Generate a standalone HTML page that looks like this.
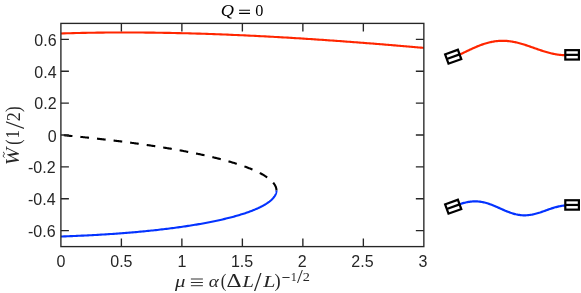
<!DOCTYPE html><html><head><meta charset="utf-8"><style>
html,body{margin:0;padding:0;background:#fff;}
#c{position:relative;width:581px;height:293px;overflow:hidden;background:#fff;will-change:transform;font-family:"Liberation Sans",sans-serif;}
.t{position:absolute;font-size:16px;line-height:16px;color:#262626;white-space:nowrap;}
.yl{text-align:right;width:50px;left:6.6px;}
.xl{text-align:center;width:60px;}
.m{position:absolute;font-family:"Liberation Serif",serif;white-space:nowrap;color:#262626;}
.mg{position:absolute;left:0;top:0;width:0;height:0;color:#262626;font-family:"Liberation Serif",serif;}
.g{position:absolute;left:0;top:0;white-space:pre;transform-origin:0 0;}
</style></head><body><div id="c">
<svg width="581" height="293" viewBox="0 0 581 293" style="position:absolute;left:0;top:0">
<path d="M60.92 135.00 L62.06 135.11 L63.19 135.21 L64.32 135.32 L65.45 135.42 L66.58 135.53 L67.71 135.63 L68.84 135.74 L69.97 135.85 L71.10 135.96 L72.22 136.07 L73.35 136.18 L74.47 136.29 L75.60 136.40 L76.72 136.51 L77.84 136.62 L78.96 136.73 L80.08 136.84 L81.20 136.96 L82.32 137.07 L83.44 137.19 L84.55 137.30 L85.67 137.42 L86.78 137.53 L87.90 137.65 L89.01 137.77 L90.12 137.88 L91.23 138.00 L92.33 138.12 L93.44 138.24 L94.55 138.36 L95.65 138.48 L96.75 138.60 L97.85 138.72 L98.95 138.85 L100.05 138.97 L101.15 139.09 L102.25 139.22 L103.34 139.34 L104.43 139.47 L105.52 139.59 L106.61 139.72 L107.70 139.85 L108.79 139.97 L109.87 140.10 L110.96 140.23 L112.04 140.36 L113.12 140.49 L114.20 140.62 L115.28 140.75 L116.35 140.88 L117.42 141.01 L118.50 141.14 L119.57 141.28 L120.63 141.41 L121.70 141.55 L122.76 141.68 L123.83 141.82 L124.89 141.95 L125.94 142.09 L127.00 142.22 L128.06 142.36 L129.11 142.50 L130.16 142.64 L131.21 142.78 L132.25 142.92 L133.30 143.06 L134.34 143.20 L135.38 143.34 L136.42 143.48 L137.46 143.63 L138.49 143.77 L139.52 143.91 L140.55 144.06 L141.58 144.20 L142.60 144.35 L143.63 144.50 L144.65 144.64 L145.66 144.79 L146.68 144.94 L147.69 145.09 L148.70 145.24 L149.71 145.39 L150.72 145.54 L151.72 145.69 L152.72 145.84 L153.72 145.99 L154.72 146.14 L155.71 146.30 L156.70 146.45 L157.69 146.60 L158.68 146.76 L159.66 146.91 L160.64 147.07 L161.62 147.23 L162.60 147.38 L163.57 147.54 L164.54 147.70 L165.51 147.86 L166.47 148.02 L167.43 148.18 L168.39 148.34 L169.35 148.50 L170.30 148.66 L171.25 148.82 L172.20 148.99 L173.14 149.15 L174.09 149.32 L175.03 149.48 L175.96 149.65 L176.89 149.81 L177.82 149.98 L178.75 150.14 L179.68 150.31 L180.60 150.48 L181.51 150.65 L182.43 150.82 L183.34 150.99 L184.25 151.16 L185.15 151.33 L186.06 151.50 L186.96 151.67 L187.85 151.85 L188.74 152.02 L189.63 152.19 L190.52 152.37 L191.40 152.54 L192.28 152.72 L193.16 152.90 L194.03 153.07 L194.90 153.25 L195.77 153.43 L196.63 153.61 L197.49 153.79 L198.34 153.97 L199.20 154.15 L200.04 154.33 L200.89 154.51 L201.73 154.69 L202.57 154.87 L203.40 155.06 L204.24 155.24 L205.06 155.42 L205.89 155.61 L206.71 155.79 L207.52 155.98 L208.34 156.17 L209.14 156.35 L209.95 156.54 L210.75 156.73 L211.55 156.92 L212.34 157.11 L213.13 157.30 L213.92 157.49 L214.70 157.68 L215.48 157.87 L216.25 158.06 L217.03 158.26 L217.79 158.45 L218.56 158.64 L219.31 158.84 L220.07 159.03 L220.82 159.23 L221.57 159.43 L222.31 159.62 L223.05 159.82 L223.78 160.02 L224.51 160.22 L225.24 160.42 L225.96 160.62 L226.68 160.82 L227.39 161.02 L228.10 161.22 L228.81 161.42 L229.51 161.62 L230.20 161.82 L230.90 162.03 L231.58 162.23 L232.27 162.44 L232.95 162.64 L233.62 162.85 L234.29 163.05 L234.96 163.26 L235.62 163.47 L236.28 163.67 L236.93 163.88 L237.58 164.09 L238.22 164.30 L238.86 164.51 L239.50 164.72 L240.13 164.93 L240.75 165.14 L241.37 165.35 L241.99 165.57 L242.60 165.78 L243.20 165.99 L243.81 166.21 L244.40 166.42 L244.99 166.64 L245.58 166.85 L246.16 167.07 L246.74 167.28 L247.32 167.50 L247.88 167.72 L248.45 167.94 L249.00 168.15 L249.56 168.37 L250.11 168.59 L250.65 168.81 L251.19 169.03 L251.72 169.25 L252.25 169.48 L252.77 169.70 L253.29 169.92 L253.80 170.14 L254.31 170.37 L254.81 170.59 L255.31 170.81 L255.80 171.04 L256.29 171.26 L256.77 171.49 L257.25 171.71 L257.72 171.94 L258.18 172.17 L258.64 172.40 L259.10 172.62 L259.55 172.85 L259.99 173.08 L260.43 173.31 L260.86 173.54 L261.29 173.77 L261.71 174.00 L262.13 174.23 L262.54 174.46 L262.95 174.69 L263.35 174.93 L263.74 175.16 L264.13 175.39 L264.52 175.62 L264.89 175.86 L265.27 176.09 L265.63 176.33 L265.99 176.56 L266.35 176.80 L266.70 177.03 L267.04 177.27 L267.38 177.50 L267.71 177.74 L268.04 177.98 L268.36 178.21 L268.67 178.45 L268.98 178.69 L269.28 178.93 L269.58 179.17 L269.87 179.41 L270.15 179.65 L270.43 179.89 L270.70 180.13 L270.97 180.37 L271.23 180.61 L271.48 180.85 L271.73 181.09 L271.97 181.33 L272.21 181.57 L272.44 181.81 L272.66 182.06 L272.88 182.30 L273.09 182.54 L273.30 182.78 L273.50 183.03 L273.69 183.27 L273.87 183.52 L274.05 183.76 L274.23 184.00 L274.40 184.25 L274.56 184.49 L274.71 184.74 L274.86 184.98 L275.00 185.23 L275.14 185.47 L275.26 185.72 L275.39 185.97 L275.50 186.21 L275.61 186.46 L275.71 186.71 L275.81 186.95 L275.90 187.20 L275.98 187.45 L276.06 187.69 L276.13 187.94 L276.19 188.19 L276.25 188.43 L276.30 188.68 L276.34 188.93 L276.38 189.18 L276.41 189.43 L276.43 189.67 L276.45 189.92 L276.46 190.17 L276.47 190.42" fill="none" stroke="#000" stroke-width="2.1" stroke-dasharray="8.7 8" stroke-dashoffset="-2.85"/>
<path d="M60.92 236.49 L62.51 236.44 L64.10 236.39 L65.68 236.33 L67.27 236.27 L68.87 236.21 L70.46 236.15 L72.05 236.09 L73.65 236.02 L75.24 235.95 L76.84 235.89 L78.44 235.82 L80.04 235.74 L81.64 235.67 L83.24 235.60 L84.84 235.52 L86.44 235.44 L88.04 235.36 L89.64 235.28 L91.24 235.19 L92.84 235.11 L94.45 235.02 L96.05 234.93 L97.65 234.84 L99.25 234.75 L100.85 234.65 L102.45 234.56 L104.05 234.46 L105.65 234.36 L107.25 234.26 L108.85 234.15 L110.45 234.04 L112.04 233.94 L113.64 233.83 L115.23 233.71 L116.83 233.60 L118.42 233.49 L120.01 233.37 L121.59 233.25 L123.18 233.13 L124.76 233.00 L126.35 232.88 L127.93 232.75 L129.50 232.62 L131.08 232.49 L132.65 232.35 L134.22 232.22 L135.79 232.08 L137.35 231.94 L138.92 231.80 L140.48 231.65 L142.03 231.50 L143.58 231.36 L145.13 231.21 L146.68 231.05 L148.22 230.90 L149.76 230.74 L151.29 230.58 L152.82 230.42 L154.35 230.26 L155.87 230.09 L157.39 229.92 L158.90 229.75 L160.41 229.58 L161.91 229.41 L163.41 229.23 L164.90 229.05 L166.39 228.87 L167.88 228.69 L169.35 228.51 L170.83 228.32 L172.29 228.13 L173.75 227.94 L175.21 227.75 L176.66 227.55 L178.10 227.35 L179.54 227.16 L180.96 226.95 L182.39 226.75 L183.81 226.54 L185.22 226.34 L186.62 226.13 L188.01 225.91 L189.40 225.70 L190.78 225.48 L192.16 225.26 L193.53 225.04 L194.88 224.82 L196.24 224.60 L197.58 224.37 L198.91 224.14 L200.24 223.91 L201.56 223.68 L202.87 223.44 L204.17 223.20 L205.46 222.96 L206.75 222.72 L208.02 222.48 L209.29 222.24 L210.55 221.99 L211.80 221.74 L213.04 221.49 L214.26 221.24 L215.48 220.98 L216.70 220.72 L217.90 220.47 L219.09 220.20 L220.27 219.94 L221.44 219.68 L222.60 219.41 L223.75 219.14 L224.89 218.87 L226.02 218.60 L227.13 218.33 L228.24 218.05 L229.34 217.78 L230.42 217.50 L231.50 217.22 L232.56 216.94 L233.62 216.65 L234.66 216.37 L235.69 216.08 L236.71 215.79 L237.71 215.50 L238.71 215.21 L239.69 214.92 L240.66 214.62 L241.62 214.33 L242.57 214.03 L243.51 213.73 L244.43 213.43 L245.34 213.13 L246.24 212.82 L247.13 212.52 L248.00 212.21 L248.87 211.90 L249.72 211.59 L250.55 211.28 L251.38 210.97 L252.19 210.66 L252.99 210.34 L253.77 210.03 L254.55 209.71 L255.31 209.39 L256.06 209.07 L256.79 208.75 L257.51 208.43 L258.22 208.11 L258.92 207.78 L259.60 207.46 L260.27 207.13 L260.92 206.81 L261.56 206.48 L262.19 206.15 L262.81 205.82 L263.41 205.49 L264.00 205.16 L264.58 204.83 L265.14 204.50 L265.69 204.16 L266.22 203.83 L266.74 203.49 L267.25 203.16 L267.74 202.82 L268.22 202.48 L268.69 202.14 L269.14 201.80 L269.58 201.47 L270.01 201.13 L270.42 200.78 L270.82 200.44 L271.20 200.10 L271.58 199.76 L271.93 199.42 L272.28 199.07 L272.61 198.73 L272.92 198.39 L273.23 198.04 L273.52 197.70 L273.79 197.35 L274.05 197.01 L274.30 196.66 L274.54 196.32 L274.76 195.97 L274.97 195.62 L275.16 195.28 L275.34 194.93 L275.51 194.58 L275.66 194.24 L275.80 193.89 L275.93 193.54 L276.04 193.20 L276.14 192.85 L276.23 192.50 L276.30 192.15 L276.36 191.81 L276.41 191.46 L276.44 191.11 L276.46 190.76 L276.47 190.42" fill="none" stroke="#0433ff" stroke-width="2.1" stroke-linejoin="round"/>
<path d="M423.85 47.90 L422.98 47.82 L422.10 47.74 L421.21 47.66 L420.32 47.59 L419.42 47.51 L418.52 47.43 L417.61 47.35 L416.70 47.27 L415.78 47.19 L414.85 47.11 L413.92 47.03 L412.98 46.95 L412.04 46.86 L411.09 46.78 L410.13 46.70 L409.17 46.62 L408.20 46.53 L407.22 46.45 L406.24 46.37 L405.25 46.28 L404.26 46.20 L403.25 46.11 L402.25 46.03 L401.23 45.94 L400.21 45.85 L399.18 45.77 L398.15 45.68 L397.10 45.59 L396.05 45.50 L395.00 45.41 L393.94 45.33 L392.87 45.24 L391.79 45.15 L390.71 45.06 L389.61 44.97 L388.52 44.88 L387.41 44.78 L386.30 44.69 L385.18 44.60 L384.05 44.51 L382.91 44.42 L381.77 44.32 L380.62 44.23 L379.46 44.14 L378.29 44.04 L377.12 43.95 L375.93 43.85 L374.74 43.76 L373.55 43.66 L372.34 43.57 L371.12 43.47 L369.90 43.37 L368.67 43.28 L367.43 43.18 L366.18 43.08 L364.92 42.98 L363.66 42.88 L362.38 42.79 L361.10 42.69 L359.81 42.59 L358.51 42.49 L357.20 42.39 L355.88 42.29 L354.55 42.19 L353.22 42.09 L351.87 41.99 L350.52 41.88 L349.15 41.78 L347.78 41.68 L346.39 41.58 L345.00 41.47 L343.60 41.37 L342.19 41.27 L340.76 41.17 L339.33 41.06 L337.89 40.96 L336.44 40.85 L334.97 40.75 L333.50 40.64 L332.02 40.54 L330.52 40.43 L329.02 40.33 L327.50 40.22 L325.98 40.12 L324.44 40.01 L322.89 39.91 L321.34 39.80 L319.77 39.69 L318.19 39.59 L316.60 39.48 L314.99 39.38 L313.38 39.27 L311.75 39.16 L310.12 39.06 L308.47 38.95 L306.81 38.84 L305.14 38.73 L303.45 38.63 L301.76 38.52 L300.05 38.41 L298.33 38.31 L296.60 38.20 L294.85 38.09 L293.09 37.99 L291.32 37.88 L289.54 37.77 L287.75 37.67 L285.94 37.56 L284.12 37.46 L282.28 37.35 L280.44 37.24 L278.58 37.14 L276.70 37.03 L274.82 36.93 L272.92 36.82 L271.00 36.72 L269.08 36.62 L267.13 36.51 L265.18 36.41 L263.21 36.31 L261.23 36.21 L259.23 36.10 L257.22 36.00 L255.20 35.90 L253.16 35.80 L251.10 35.70 L249.03 35.60 L246.95 35.51 L244.85 35.41 L242.74 35.31 L240.62 35.22 L238.47 35.12 L236.32 35.03 L234.15 34.93 L231.96 34.84 L229.76 34.75 L227.54 34.66 L225.31 34.57 L223.06 34.48 L220.80 34.40 L218.52 34.31 L216.23 34.23 L213.92 34.14 L211.59 34.06 L209.25 33.98 L206.90 33.90 L204.53 33.82 L202.14 33.75 L199.74 33.67 L197.32 33.60 L194.88 33.53 L192.43 33.46 L189.97 33.39 L187.49 33.32 L184.99 33.26 L182.48 33.20 L179.95 33.14 L177.40 33.08 L174.84 33.03 L172.27 32.97 L169.68 32.92 L167.07 32.87 L164.45 32.83 L161.81 32.78 L159.16 32.74 L156.49 32.70 L153.80 32.67 L151.11 32.64 L148.39 32.61 L145.66 32.58 L142.92 32.55 L140.16 32.53 L137.39 32.52 L134.60 32.50 L131.80 32.49 L128.99 32.49 L126.16 32.48 L123.31 32.48 L120.46 32.49 L117.59 32.49 L114.71 32.51 L111.81 32.52 L108.90 32.54 L105.98 32.57 L103.05 32.59 L100.11 32.63 L97.15 32.67 L94.18 32.71 L91.21 32.75 L88.22 32.81 L85.22 32.86 L82.21 32.92 L79.20 32.99 L76.17 33.06 L73.14 33.14 L70.09 33.22 L67.04 33.31 L63.99 33.40 L60.92 33.50" fill="none" stroke="#ff2600" stroke-width="2.1" stroke-linejoin="round"/>
<g stroke="#262626" stroke-width="1.35" fill="none">
<rect x="60.9" y="23.4" width="362.95" height="223.20"/>
<path d="M121.39 246.6 V238.60 M121.39 23.4 V31.40 M181.88 246.6 V238.60 M181.88 23.4 V31.40 M242.38 246.6 V238.60 M242.38 23.4 V31.40 M302.87 246.6 V238.60 M302.87 23.4 V31.40 M363.36 246.6 V238.60 M363.36 23.4 V31.40 M60.9 230.66 H68.90 M423.85 230.66 H415.85 M60.9 198.77 H68.90 M423.85 198.77 H415.85 M60.9 166.89 H68.90 M423.85 166.89 H415.85 M60.9 135.00 H68.90 M423.85 135.00 H415.85 M60.9 103.11 H68.90 M423.85 103.11 H415.85 M60.9 71.23 H68.90 M423.85 71.23 H415.85 M60.9 39.34 H68.90 M423.85 39.34 H415.85 "/>
</g>
<g transform="translate(0 0.38)">
<path d="M459.50 54.33 L460.39 53.90 L461.29 53.47 L462.18 53.04 L463.08 52.61 L463.97 52.18 L464.87 51.74 L465.76 51.31 L466.66 50.88 L467.55 50.45 L468.45 50.02 L469.34 49.60 L470.24 49.18 L471.13 48.76 L472.03 48.35 L472.92 47.94 L473.82 47.54 L474.71 47.15 L475.61 46.76 L476.50 46.38 L477.40 46.01 L478.29 45.64 L479.19 45.29 L480.08 44.94 L480.98 44.61 L481.87 44.28 L482.77 43.97 L483.66 43.66 L484.56 43.37 L485.45 43.09 L486.35 42.83 L487.24 42.57 L488.14 42.33 L489.03 42.10 L489.93 41.89 L490.82 41.69 L491.72 41.50 L492.61 41.33 L493.51 41.17 L494.40 41.03 L495.30 40.90 L496.19 40.79 L497.09 40.69 L497.98 40.60 L498.88 40.53 L499.77 40.48 L500.67 40.44 L501.56 40.42 L502.46 40.41 L503.35 40.41 L504.25 40.44 L505.14 40.47 L506.04 40.52 L506.93 40.59 L507.83 40.66 L508.72 40.76 L509.62 40.86 L510.51 40.98 L511.41 41.12 L512.30 41.26 L513.20 41.42 L514.09 41.59 L514.99 41.77 L515.88 41.96 L516.78 42.17 L517.67 42.38 L518.57 42.61 L519.46 42.84 L520.36 43.09 L521.25 43.34 L522.15 43.60 L523.04 43.87 L523.94 44.14 L524.83 44.42 L525.73 44.71 L526.62 45.01 L527.52 45.30 L528.41 45.61 L529.31 45.91 L530.20 46.22 L531.10 46.54 L531.99 46.85 L532.89 47.17 L533.78 47.48 L534.68 47.80 L535.57 48.12 L536.47 48.43 L537.36 48.75 L538.26 49.06 L539.15 49.37 L540.05 49.67 L540.94 49.97 L541.84 50.27 L542.73 50.56 L543.63 50.85 L544.52 51.13 L545.42 51.40 L546.31 51.67 L547.21 51.93 L548.10 52.18 L549.00 52.42 L549.89 52.65 L550.79 52.87 L551.68 53.08 L552.58 53.28 L553.47 53.47 L554.37 53.65 L555.26 53.82 L556.16 53.97 L557.05 54.11 L557.95 54.24 L558.84 54.35 L559.74 54.46 L560.63 54.54 L561.53 54.62 L562.42 54.68 L563.32 54.72 L564.21 54.75 L565.11 54.77 L566.00 54.77" fill="none" stroke="#ff2600" stroke-width="2.2"/>
<path d="M459.50 203.88 L460.39 203.59 L461.29 203.31 L462.18 203.05 L463.08 202.79 L463.97 202.55 L464.87 202.32 L465.76 202.10 L466.66 201.90 L467.55 201.72 L468.45 201.56 L469.34 201.42 L470.24 201.29 L471.13 201.18 L472.03 201.10 L472.92 201.03 L473.82 200.99 L474.71 200.97 L475.61 200.97 L476.50 200.99 L477.40 201.03 L478.29 201.10 L479.19 201.19 L480.08 201.30 L480.98 201.43 L481.87 201.58 L482.77 201.75 L483.66 201.94 L484.56 202.15 L485.45 202.39 L486.35 202.63 L487.24 202.90 L488.14 203.18 L489.03 203.48 L489.93 203.80 L490.82 204.12 L491.72 204.46 L492.61 204.82 L493.51 205.18 L494.40 205.55 L495.30 205.93 L496.19 206.32 L497.09 206.71 L497.98 207.10 L498.88 207.50 L499.77 207.90 L500.67 208.30 L501.56 208.70 L502.46 209.10 L503.35 209.49 L504.25 209.88 L505.14 210.26 L506.04 210.63 L506.93 211.00 L507.83 211.35 L508.72 211.69 L509.62 212.02 L510.51 212.34 L511.41 212.64 L512.30 212.93 L513.20 213.20 L514.09 213.45 L514.99 213.69 L515.88 213.91 L516.78 214.10 L517.67 214.28 L518.57 214.44 L519.46 214.57 L520.36 214.69 L521.25 214.78 L522.15 214.85 L523.04 214.90 L523.94 214.93 L524.83 214.93 L525.73 214.91 L526.62 214.88 L527.52 214.82 L528.41 214.74 L529.31 214.64 L530.20 214.51 L531.10 214.37 L531.99 214.22 L532.89 214.04 L533.78 213.84 L534.68 213.63 L535.57 213.41 L536.47 213.17 L537.36 212.92 L538.26 212.65 L539.15 212.37 L540.05 212.09 L540.94 211.79 L541.84 211.49 L542.73 211.18 L543.63 210.87 L544.52 210.55 L545.42 210.23 L546.31 209.91 L547.21 209.59 L548.10 209.27 L549.00 208.95 L549.89 208.64 L550.79 208.33 L551.68 208.03 L552.58 207.74 L553.47 207.46 L554.37 207.19 L555.26 206.93 L556.16 206.69 L557.05 206.45 L557.95 206.24 L558.84 206.03 L559.74 205.85 L560.63 205.68 L561.53 205.53 L562.42 205.40 L563.32 205.29 L564.21 205.20 L565.11 205.13 L566.00 205.09" fill="none" stroke="#0433ff" stroke-width="2.2"/>
<g transform="translate(453.2 56.35) rotate(-20)" stroke="#000" stroke-width="2.2" fill="#fff"><rect x="-6.8" y="-4.95" width="13.6" height="9.9"/><path d="M-6.8 0 H6.8"/></g>
<g transform="translate(572.1 54.47) rotate(0)" stroke="#000" stroke-width="2.2" fill="#fff"><rect x="-6.8" y="-4.7" width="13.6" height="9.4"/><path d="M-6.8 0 H6.8"/></g>
<g transform="translate(453.2 206.35) rotate(-20)" stroke="#000" stroke-width="2.2" fill="#fff"><rect x="-6.8" y="-4.95" width="13.6" height="9.9"/><path d="M-6.8 0 H6.8"/></g>
<g transform="translate(572.1 204.57) rotate(0)" stroke="#000" stroke-width="2.2" fill="#fff"><rect x="-6.8" y="-4.7" width="13.6" height="9.4"/><path d="M-6.8 0 H6.8"/></g>
</g>
</svg>
<div class="t yl" style="top:32.64px;left:6.6px">0.6</div>
<div class="t yl" style="top:64.53px;left:6.6px">0.4</div>
<div class="t yl" style="top:96.41px;left:6.6px">0.2</div>
<div class="t yl" style="top:128.80px;left:6.6px">0</div>
<div class="t yl" style="top:160.19px;left:5.6px">-0.2</div>
<div class="t yl" style="top:192.07px;left:5.6px">-0.4</div>
<div class="t yl" style="top:223.96px;left:5.6px">-0.6</div>
<div class="t xl" style="left:30.90px;top:253.7px">0</div>
<div class="t xl" style="left:91.39px;top:253.7px">0.5</div>
<div class="t xl" style="left:151.88px;top:253.7px">1</div>
<div class="t xl" style="left:212.08px;top:253.7px">1.5</div>
<div class="t xl" style="left:272.17px;top:253.7px">2</div>
<div class="t xl" style="left:332.46px;top:253.7px">2.5</div>
<div class="t xl" style="left:392.85px;top:253.7px">3</div>
<div class="mg" style="color:#000"><span class="g" style="font-style:italic;font-size:17.6px;line-height:17.6px;transform:matrix(1.0400,0,0,0.9965,220.760,1.809)">Q</span><span class="g" style="font-style:normal;font-size:17.6px;line-height:17.6px;transform:matrix(0.9241,0,0,0.9500,255.207,2.562)">0</span></div>
<div class="mg"><span class="g" style="font-style:italic;font-size:17.6px;line-height:17.6px;transform:matrix(1.1758,0,0,0.9702,175.100,272.979)">&mu;</span><span class="g" style="font-style:italic;font-size:17.6px;line-height:17.6px;transform:matrix(1.0889,0,0,0.9412,208.656,273.388)">&alpha;</span><span class="g" style="font-style:normal;font-size:17.6px;line-height:17.6px;transform:matrix(0.9556,0,0,1.0857,220.783,271.729)">(</span><span class="g" style="font-style:normal;font-size:17.6px;line-height:17.6px;transform:matrix(1.3300,0,0,1.0348,226.403,272.113)">&Delta;</span><span class="g" style="font-style:italic;font-size:17.6px;line-height:17.6px;transform:matrix(1.1676,0,0,1.0087,242.392,272.478)">L</span><span class="g" style="font-style:normal;font-size:17.6px;line-height:17.6px;transform:matrix(1.5368,0,0,1.5149,254.000,270.213)">/</span><span class="g" style="font-style:italic;font-size:17.6px;line-height:17.6px;transform:matrix(1.2432,0,0,1.0087,263.311,272.478)">L</span><span class="g" style="font-style:normal;font-size:17.6px;line-height:17.6px;transform:matrix(1.0444,0,0,1.1048,274.578,271.490)">)</span><span class="g" style="font-style:normal;font-size:12.3px;line-height:12.3px;transform:matrix(0.9889,0,0,1.0625,290.661,270.475)">1</span><span class="g" style="font-style:normal;font-size:12.3px;line-height:12.3px;transform:matrix(1.6923,0,0,1.5812,297.100,267.587)">/</span><span class="g" style="font-style:normal;font-size:12.3px;line-height:12.3px;transform:matrix(1.1600,0,0,1.0625,302.720,270.475)">2</span></div>
<div class="mg" style="top:170px;transform-origin:0 0;transform:rotate(-90deg)"><span class="g" style="font-style:italic;font-size:17.6px;line-height:17.6px;transform:matrix(1.2000,0,0,1.0511,4.800,4.622)">W</span><span class="g" style="font-style:normal;font-size:17.6px;line-height:17.6px;transform:matrix(0.8889,0,0,1.1365,25.233,3.727)">(</span><span class="g" style="font-style:normal;font-size:17.6px;line-height:17.6px;transform:matrix(0.9760,0,0,1.0261,31.536,5.035)">1</span><span class="g" style="font-style:normal;font-size:17.6px;line-height:17.6px;transform:matrix(1.5789,0,0,1.5319,40.900,2.270)">/</span><span class="g" style="font-style:normal;font-size:17.6px;line-height:17.6px;transform:matrix(1.0286,0,0,1.0522,48.829,4.770)">2</span><span class="g" style="font-style:normal;font-size:17.6px;line-height:17.6px;transform:matrix(0.9556,0,0,1.1429,58.122,3.814)">)</span></div>
<svg width="581" height="293" viewBox="0 0 581 293" style="position:absolute;left:0;top:0">
<path d="M239.1 10.15H250 M239.1 13.35H250" stroke="#000" stroke-width="1.05" fill="none"/>
<path d="M190.9 279.0H202.9 M190.9 282.5H202.9 M190.9 285.7H202.9 M282.4 277.5H289.6" stroke="#262626" stroke-width="0.95" fill="none"/>
<g transform="translate(0 170) rotate(-90)"><path d="M12.5 4.5 C13.2 2.9 14.4 3.0 15.2 3.8 C16.0 4.6 17.2 4.7 18.0 3.1" stroke="#262626" stroke-width="0.95" fill="none"/></g>
</svg>
</div></body></html>
